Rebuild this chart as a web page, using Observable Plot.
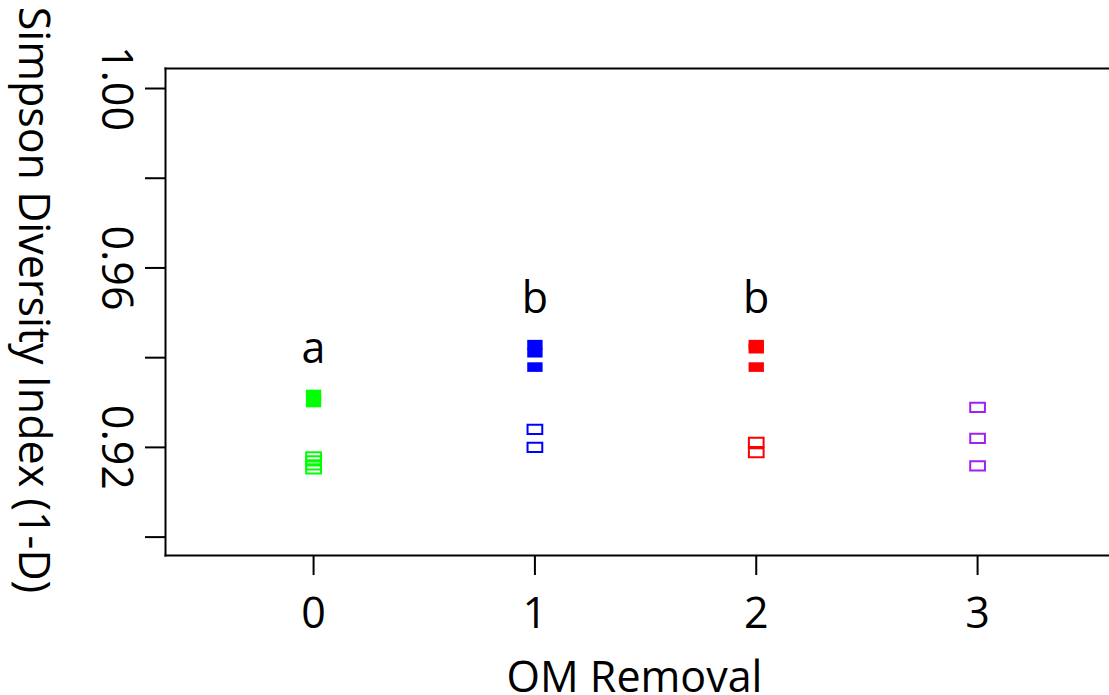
<!DOCTYPE html>
<html>
<head>
<meta charset="utf-8">
<script src="https://cdn.jsdelivr.net/npm/d3@7"></script>
<script src="https://cdn.jsdelivr.net/npm/@observablehq/plot@0.6"></script>
<style>
  html, body { margin: 0; padding: 0; background: #fff; overflow: hidden; }
</style>
</head>
<body>
<div id="chart"></div>
<script>
// ---- data ----
const groups = [0, 1, 2, 3];
const groupColors = ["#00FF00", "#0000FF", "#FF0000", "#A020F0"];
const filled0 = [0.9318, 0.9300];
const open0 = [0.9179, 0.9170, 0.9161, 0.9152];
const filled1 = [0.9429, 0.9411, 0.9379];
const open1 = [0.9240, 0.9200];
const filled2 = [0.9429, 0.9420, 0.9379];
const open2 = [0.9211, 0.9188];
const filled3 = [];
const open3 = [0.9289, 0.9220, 0.9159];
const letters = ["a", "b", "b"];
const letterGroups = [0, 1, 2];
const letterY = [0.9418, 0.9530, 0.9530];
const yTicks = [0.90, 0.92, 0.94, 0.96, 0.98, 1.00];
const yLabelTicks = [0.92, 0.96, 1.00];
const xTicks = [0, 1, 2, 3];
const xLabel = "OM Removal";
const yLabel = "Simpson Diversity Index (1-D)";

const filledAll = [filled0, filled1, filled2, filled3];
const openAll = [open0, open1, open2, open3];
const filledRows = groups.flatMap((g, i) => filledAll[i].map(v => ({g, v, c: groupColors[i]})));
const openRows = groups.flatMap((g, i) => openAll[i].map(v => ({g, v, c: groupColors[i]})));
const letterRows = letters.map((t, i) => ({t, g: letterGroups[i], v: letterY[i]}));

const rectSymbol = {
  draw(ctx, size) {
    const r = Math.sqrt(size / Math.PI);
    ctx.moveTo(-1.6 * r, -r);
    ctx.lineTo(1.6 * r, -r);
    ctx.lineTo(1.6 * r, r);
    ctx.lineTo(-1.6 * r, r);
    ctx.closePath();
  }
};

const FS = 43;
const chart = Plot.plot({
  width: 1109,
  height: 695,
  marginLeft: 165,
  marginTop: 68,
  marginBottom: 140,
  marginRight: 0,
  style: {fontFamily: "'Open Sans', sans-serif", fontSize: FS + "px", color: "#000", background: "#fff"},
  x: {domain: [-0.669, 3.596]},
  y: {domain: [0.8959, 1.00446]},
  marks: [
    Plot.frame({anchor: "top", strokeWidth: 2}),
    Plot.frame({anchor: "left", strokeWidth: 2}),
    Plot.frame({anchor: "bottom", strokeWidth: 2}),
    Plot.axisY(yTicks, {tickSize: 20, tickFormat: () => "", strokeWidth: 2, label: null}),
    Plot.text(yLabelTicks, {y: d => d, frameAnchor: "left", textAnchor: "middle", lineAnchor: "middle", dx: -50, rotate: 90, text: d => d.toFixed(2), fontSize: FS}),
    Plot.axisX(xTicks, {tickSize: 20, tickPadding: 22, strokeWidth: 2, fontSize: FS, label: null, tickFormat: d => String(d)}),
    Plot.text([yLabel], {frameAnchor: "left", textAnchor: "middle", lineAnchor: "middle", dx: -133, dy: -12, rotate: 90, fontSize: FS}),
    Plot.text([xLabel], {frameAnchor: "bottom", textAnchor: "middle", dx: -3, dy: 136, fontSize: FS}),
    Plot.dot(openRows, {x: "g", y: "v", stroke: d => d.c, fill: "none", symbol: rectSymbol, r: 4.6, strokeWidth: 2}),
    Plot.dot(filledRows, {x: "g", y: "v", fill: d => d.c, stroke: "none", symbol: rectSymbol, r: 4.8}),
    Plot.text(letterRows, {x: "g", y: "v", text: "t", fontSize: FS})
  ]
});
document.getElementById("chart").append(chart);
</script>
</body>
</html>
